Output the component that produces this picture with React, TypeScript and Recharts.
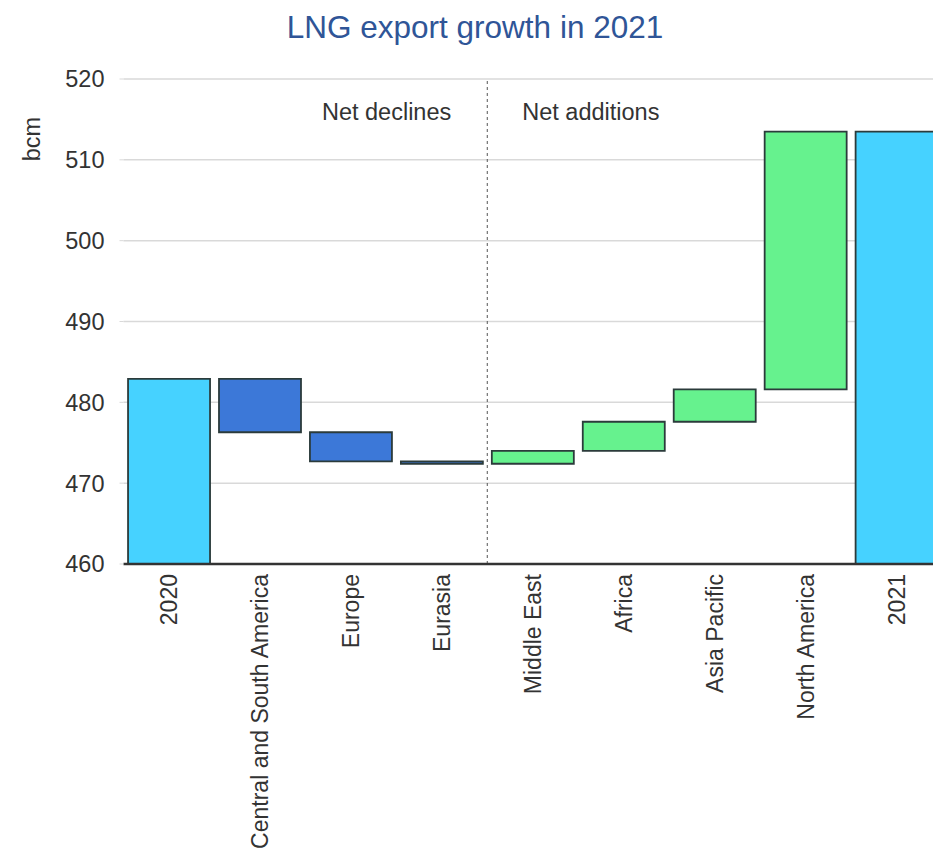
import React from "react";
import {
  BarChart,
  Bar,
  XAxis,
  YAxis,
  CartesianGrid,
  ReferenceLine,
  Cell,
} from "recharts";

const categories = [
  "2020",
  "Central and South America",
  "Europe",
  "Eurasia",
  "Middle East",
  "Africa",
  "Asia Pacific",
  "North America",
  "2021",
];
// Start total (2020) and changes by region (bcm)
const startTotal = 482.9;
const changes = [-6.6, -3.6, -0.3, 1.6, 3.6, 4.0, 31.9];
const kinds = ["total", "down", "down", "down", "up", "up", "up", "up", "total"];
const yTicks = [460, 470, 480, 490, 500, 510, 520];
const yMin = 460;
const yMax = 520;

const colorFor: Record<string, string> = {
  total: "#46d2ff",
  down: "#3c78d8",
  up: "#66f28e",
};

function buildData() {
  const rows: { name: string; range: [number, number]; kind: string }[] = [];
  let level = startTotal;
  rows.push({ name: categories[0], range: [yMin, startTotal], kind: kinds[0] });
  changes.forEach((c, i) => {
    const next = level + c;
    rows.push({
      name: categories[i + 1],
      range: [Math.min(level, next), Math.max(level, next)],
      kind: kinds[i + 1],
    });
    level = next;
  });
  rows.push({ name: categories[8], range: [yMin, level], kind: kinds[8] });
  return rows;
}

const data = buildData();
const FONT = "'Liberation Sans', Arial, Helvetica, sans-serif";

const XTick = (props: any) => {
  const { x, y, payload } = props;
  return (
    <text
      transform={`translate(${x},${y + 2}) rotate(-90)`}
      textAnchor="end"
      dy="0.36em"
      fontSize={23}
      fontFamily={FONT}
      fill="#333"
    >
      {payload.value}
    </text>
  );
};

const NetLabels = (props: any) => {
  const vb = props.viewBox || {};
  const x = vb.x ?? 0;
  const y = (vb.y ?? 0) + 41;
  return (
    <g>
      <text x={x - 36} y={y} textAnchor="end" fontSize={23.5} fontFamily={FONT} fill="#333">
        Net declines
      </text>
      <text x={x + 35} y={y} textAnchor="start" fontSize={23.5} fontFamily={FONT} fill="#333">
        Net additions
      </text>
    </g>
  );
};

const BcmLabel = (props: any) => {
  const vb = props.viewBox || {};
  const cx = (vb.x ?? 0) + 32;
  const cy = (vb.y ?? 0) + 60;
  return (
    <text
      transform={`translate(${cx},${cy}) rotate(-90)`}
      textAnchor="middle"
      dy="0.36em"
      fontSize={23.5}
      fontFamily={FONT}
      fill="#333"
    >
      bcm
    </text>
  );
};

export default function App() {
  return (
    <div
      style={{
        position: "absolute",
        left: 0,
        top: 0,
        width: 933,
        height: 859,
        overflow: "hidden",
        background: "#fff",
      }}
    >
      <div
        style={{
          position: "absolute",
          left: 0,
          top: 9,
          width: 950,
          textAlign: "center",
          fontFamily: FONT,
          fontSize: 31.5,
          color: "#2f5597",
        }}
      >
        LNG export growth in 2021
      </div>
      <BarChart
        width={960}
        height={859}
        data={data}
        margin={{ top: 79, right: 18, left: 0, bottom: 5 }}
        barCategoryGap="5%"
      >
        <CartesianGrid vertical={false} stroke="#d9d9d9" strokeWidth={1.5} />
        <XAxis
          dataKey="name"
          interval={0}
          height={290}
          tickLine={false}
          axisLine={{ stroke: "#333", strokeWidth: 2.5 }}
          tick={<XTick />}
        />
        <YAxis
          width={123.5}
          domain={[yMin, yMax]}
          ticks={yTicks}
          allowDataOverflow
          axisLine={false}
          tickLine={{ stroke: "#d9d9d9" }}
          tickSize={4}
          tickMargin={15}
          tick={{ fontSize: 23.5, fontFamily: FONT, fill: "#333" }}
          label={<BcmLabel />}
        />
        <ReferenceLine
          x="Middle East"
          position="start"
          stroke="#555"
          strokeDasharray="3 3"
          strokeWidth={1}
          label={<NetLabels />}
        />
        <Bar dataKey="range" isAnimationActive={false} stroke="#2b3b3b" strokeWidth={1.8}>
          {data.map((d, i) => (
            <Cell key={i} fill={colorFor[d.kind]} />
          ))}
        </Bar>
      </BarChart>
    </div>
  );
}
